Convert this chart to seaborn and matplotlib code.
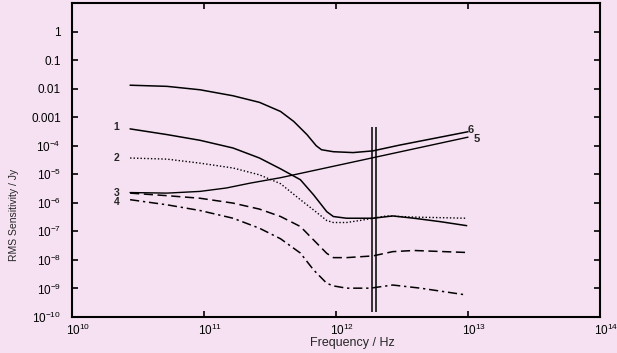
"""
RMS sensitivity vs frequency - log-log line chart recreated with seaborn
"""

import numpy as np
import pandas as pd
import matplotlib
matplotlib.use("Agg")
import matplotlib.pyplot as plt
import matplotlib.transforms as mtrans
import seaborn as sns

# ── data (log10 values) ─────────────────────────────────────────────────────
logf_1 = [10.44, 10.72, 10.97, 11.22, 11.42, 11.58, 11.73, 11.83, 11.93, 11.98,
          12.08, 12.28, 12.43, 12.59, 12.79, 12.99]
logs_1 = [-3.41, -3.61, -3.81, -4.08, -4.43, -4.81, -5.19, -5.72, -6.31, -6.48,
          -6.54, -6.54, -6.46, -6.54, -6.66, -6.80]

logf_2 = [10.44, 10.72, 10.97, 11.22, 11.42, 11.58, 11.73, 11.83, 11.93, 11.98,
          12.08, 12.18, 12.28, 12.38, 12.59, 12.99]
logs_2 = [-4.43, -4.47, -4.61, -4.78, -5.02, -5.33, -5.89, -6.25, -6.62, -6.69,
          -6.69, -6.62, -6.54, -6.46, -6.50, -6.54]

logf_3 = [10.44, 10.72, 10.97, 11.22, 11.42, 11.58, 11.73, 11.83, 11.93, 11.98,
          12.08, 12.28, 12.43, 12.59, 12.99]
logs_3 = [-5.66, -5.75, -5.84, -6.01, -6.22, -6.48, -6.83, -7.30, -7.77, -7.92,
          -7.92, -7.86, -7.71, -7.67, -7.74]

logf_4 = [10.44, 10.72, 10.97, 11.22, 11.42, 11.58, 11.73, 11.83, 11.93, 11.98,
          12.08, 12.26, 12.43, 12.64, 12.99]
logs_4 = [-5.89, -6.07, -6.27, -6.54, -6.89, -7.26, -7.76, -8.35, -8.82, -8.91,
          -8.99, -8.99, -8.88, -8.99, -9.23]

logf_5 = [10.44, 10.72, 10.97, 11.17, 11.35, 11.58, 12.29, 13.0]
logs_5 = [-5.64, -5.66, -5.60, -5.48, -5.31, -5.12, -4.41, -3.70]

logf_6 = [10.44, 10.72, 10.97, 11.22, 11.42, 11.58, 11.68, 11.78, 11.85, 11.89,
          11.98, 12.13, 12.28, 12.48, 13.0]
logs_6 = [-1.88, -1.92, -2.04, -2.25, -2.48, -2.80, -3.15, -3.61, -4.00, -4.14,
          -4.21, -4.24, -4.18, -3.98, -3.51]

# double vertical marker line
marker_logf = [12.27, 12.30]
marker_logs = [-9.82, -3.33]

curve_labels = ["1", "2", "3", "4", "5", "6"]

y_tick_exp = list(range(-10, 1))
y_tick_text = [r"$10^{%d}$" % e for e in range(-10, -3)] + ["0.001", "0.01", "0.1", "1"]
x_tick_exp = [10, 11, 12, 13, 14]
x_tick_text = [r"$10^{%d}$" % e for e in x_tick_exp]

# ── style ───────────────────────────────────────────────────────────────────
BG = "#f6e1f3"
sns.set_style("ticks")
plt.rcParams["font.family"] = ["Liberation Sans", "DejaVu Sans"]
plt.rcParams["mathtext.fontset"] = "custom"
plt.rcParams["mathtext.rm"] = "Liberation Sans"
plt.rcParams["mathtext.it"] = "Liberation Sans"

fig = plt.figure(figsize=(6.17, 3.53), dpi=100, facecolor=BG)
ax = fig.add_axes([72 / 617, 1 - 317 / 353, 528 / 617, 314 / 353])
ax.set_facecolor(BG)
ax.set_xscale("log")
ax.set_yscale("log")

styles = {
    "1": dict(linestyle="-", linewidth=1.1),
    "2": dict(linestyle=(0, (1, 1.5)), linewidth=1.0),
    "3": dict(linestyle=(0, (6, 3)), linewidth=1.1),
    "4": dict(linestyle=(0, (6, 2.5, 1.5, 2.5)), linewidth=1.1),
    "5": dict(linestyle="-", linewidth=1.0),
    "6": dict(linestyle="-", linewidth=1.1),
}
curves = {
    "1": (logf_1, logs_1), "2": (logf_2, logs_2), "3": (logf_3, logs_3),
    "4": (logf_4, logs_4), "5": (logf_5, logs_5), "6": (logf_6, logs_6),
}

for name in curve_labels:
    lf, ls = curves[name]
    df = pd.DataFrame({"freq": 10.0 ** np.array(lf), "sens": 10.0 ** np.array(ls)})
    sns.lineplot(data=df, x="freq", y="sens", ax=ax, color="black",
                 estimator=None, sort=False, **styles[name])

# vertical double line
for lf in marker_logf:
    ax.vlines(10.0 ** lf, 10.0 ** marker_logs[0], 10.0 ** marker_logs[1],
              color="black", linewidth=1.1)

# curve numbers
label_dy = {"1": 0.05, "2": 0.0, "3": 0.01, "4": -0.08}
for name in ["1", "2", "3", "4"]:
    lf, ls = curves[name]
    ax.text(10.0 ** (lf[0] - 0.08), 10.0 ** (ls[0] + label_dy[name]), name,
            ha="right", va="center", fontsize=7.5, fontweight="bold")
ax.text(10.0 ** 13.0, 10.0 ** -3.46, "6", ha="left", va="center",
        fontsize=8, fontweight="bold")
ax.text(10.0 ** 13.04, 10.0 ** -3.75, "5", ha="left", va="center",
        fontsize=8, fontweight="bold")

# ── axes ────────────────────────────────────────────────────────────────────
ax.set_xlim(1e10, 1e14)
ax.set_ylim(1e-10, 10)
ax.set_xticks([10.0 ** e for e in x_tick_exp])
ax.set_xticklabels(x_tick_text)
ax.set_yticks([10.0 ** e for e in y_tick_exp])
ax.set_yticklabels(y_tick_text)
ax.minorticks_off()
ax.tick_params(direction="in", length=4, width=1.2, top=True, right=True,
               labelsize=8.5, colors="black")
ax.tick_params(axis="y", pad=8)
ax.tick_params(axis="x", pad=4)
for lab in ax.get_xticklabels():
    lab.set_transform(lab.get_transform() +
                      mtrans.ScaledTranslation(6 / 100, 0, fig.dpi_scale_trans))
for sp in ax.spines.values():
    sp.set_linewidth(1.5)
    sp.set_color("black")

ax.set_xlabel("")
ax.set_ylabel("")
fig.text(352 / 617, 1 - 343 / 353, "Frequency / Hz", ha="center", va="center",
         fontsize=9)
fig.text(14 / 617, 1 - 215 / 353, "RMS Sensitivity / Jy", rotation=90,
         ha="center", va="center", fontsize=7.5,
         family=["Liberation Sans Narrow", "Liberation Sans", "DejaVu Sans"])

fig.savefig("out.png", dpi=100, facecolor=BG)
